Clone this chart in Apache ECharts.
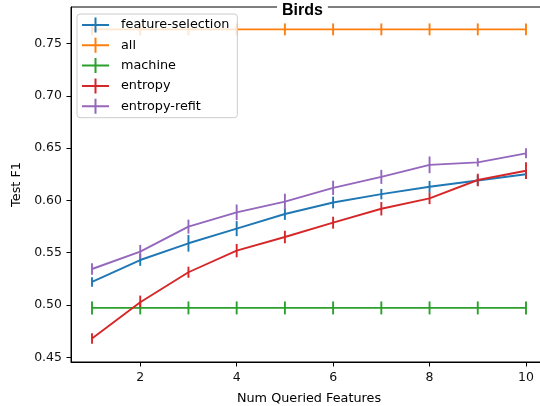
<!DOCTYPE html>
<html>
<head>
<meta charset="utf-8">
<script src="https://cdn.jsdelivr.net/npm/echarts@6/dist/echarts.min.js"></script>
<style>
  html, body { margin: 0; padding: 0; background: #fff; overflow: hidden; width: 540px; height: 406px; }
  /* the plot frame runs a few pixels past the right edge of the page */
  #chart { width: 547px; height: 406px; }
</style>
</head>
<body>
<div id="chart"></div>
<script>
// Number of queried features (x values)
const queried = [1, 2, 3, 4, 5, 6, 7, 8, 9, 10];

// Mean test F1 per method, with error bar half-heights
const featureSelection    = [0.522, 0.543, 0.559, 0.573, 0.587, 0.598, 0.606, 0.613, 0.619, 0.625];
const featureSelectionErr = [0.0045, 0.0056, 0.0080, 0.0072, 0.0056, 0.0056, 0.0050, 0.0056, 0.0050, 0.0042];

const allFeatures    = [0.7635, 0.7635, 0.7635, 0.7635, 0.7635, 0.7635, 0.7635, 0.7635, 0.7635, 0.7635];
const allFeaturesErr = [0.0057, 0.0057, 0.0057, 0.0057, 0.0057, 0.0057, 0.0057, 0.0057, 0.0057, 0.0057];

const machine    = [0.4972, 0.4972, 0.4972, 0.4972, 0.4972, 0.4972, 0.4972, 0.4972, 0.4972, 0.4972];
const machineErr = [0.0062, 0.0062, 0.0062, 0.0062, 0.0062, 0.0062, 0.0062, 0.0062, 0.0062, 0.0062];

const entropy    = [0.468, 0.5026, 0.5313, 0.552, 0.565, 0.5787, 0.592, 0.602, 0.6195, 0.6284];
const entropyErr = [0.0050, 0.0064, 0.0053, 0.0064, 0.0060, 0.0057, 0.0064, 0.0056, 0.0060, 0.0080];

const entropyRefit    = [0.5344, 0.551, 0.5749, 0.5886, 0.5988, 0.612, 0.6225, 0.634, 0.6364, 0.645];
const entropyRefitErr = [0.0056, 0.0064, 0.0067, 0.0075, 0.0076, 0.0068, 0.0067, 0.0080, 0.0040, 0.0048];

// Tick labels
const xTicks = [2, 4, 6, 8, 10];
const yTicks = [0.45, 0.50, 0.55, 0.60, 0.65, 0.70, 0.75];

const methods = [
  { name: 'feature-selection', values: featureSelection, errors: featureSelectionErr, color: '#1f77b4' },
  { name: 'all',               values: allFeatures,      errors: allFeaturesErr,      color: '#ff7f0e' },
  { name: 'machine',           values: machine,          errors: machineErr,          color: '#2ca02c' },
  { name: 'entropy',           values: entropy,          errors: entropyErr,          color: '#d62728' },
  { name: 'entropy-refit',     values: entropyRefit,     errors: entropyRefitErr,     color: '#9467bd' }
];

const LW = 1.9;
const font = 'DejaVu Sans';
// Legend glyph: a short line crossed by a vertical error bar
const plusIcon = 'path://M0,6.5H27V8.5H0Z M12.5,0H14.5V15H12.5Z';

const series = [];
methods.forEach((m) => {
  series.push({
    name: m.name,
    type: 'line',
    data: queried.map((x, k) => [x, m.values[k]]),
    showSymbol: false,
    symbol: 'none',
    lineStyle: { color: m.color, width: LW },
    itemStyle: { color: m.color },
    z: 2,
    silent: true
  });
  series.push({
    name: m.name + ' err',
    type: 'custom',
    data: queried.map((x, k) => [x, m.values[k], m.errors[k]]),
    renderItem: (params, api) => {
      const x = api.value(0), y = api.value(1), e = api.value(2);
      const p1 = api.coord([x, y + e]);
      const p2 = api.coord([x, y - e]);
      return {
        type: 'line',
        shape: { x1: p1[0], y1: p1[1], x2: p2[0], y2: p2[1] },
        style: { stroke: m.color, lineWidth: LW }
      };
    },
    z: 2,
    silent: true
  });
});

const chart = echarts.init(document.getElementById('chart'), null, { renderer: 'canvas' });
chart.setOption({
  animation: false,
  backgroundColor: '#fff',
  title: {
    text: 'Birds',
    left: 277,
    top: 2,
    padding: [1, 5, 1, 5],
    backgroundColor: '#fff',
    textStyle: { fontFamily: 'Liberation Sans', fontWeight: 'bold', fontSize: 16, color: '#000' }
  },
  legend: {
    data: methods.map(m => ({ name: m.name, icon: plusIcon })),
    orient: 'vertical',
    left: 77,
    top: 14,
    padding: [3.5, 8, 4, 5],
    itemWidth: 27,
    itemHeight: 15,
    itemGap: 5.3,
    backgroundColor: 'rgba(255,255,255,0.8)',
    borderColor: '#cccccc',
    borderWidth: 1,
    borderRadius: 3,
    selectedMode: false,
    z: 6,
    textStyle: { fontFamily: font, fontSize: 12.8, color: '#000', padding: [0, 0, 0, 7] }
  },
  grid: {
    left: 71, right: 0, top: 7, bottom: 44,
    outerBoundsMode: 'none',
    show: true, borderColor: '#000', borderWidth: 1, backgroundColor: 'transparent'
  },
  xAxis: {
    type: 'value',
    min: 0.5643,
    max: 10.4357,
    name: 'Num Queried Features',
    nameLocation: 'middle',
    nameGap: 30,
    nameTextStyle: { fontFamily: font, fontSize: 12.8, color: '#000' },
    axisLine: { show: true, lineStyle: { color: '#000', width: 1 } },
    axisTick: { show: true, length: 4.5, customValues: xTicks, lineStyle: { color: '#000', width: 1 } },
    axisLabel: { customValues: xTicks, margin: 9, fontFamily: font, fontSize: 12.5, color: '#111' },
    splitLine: { show: false }
  },
  yAxis: {
    type: 'value',
    min: 0.4455,
    max: 0.7849,
    name: 'Test F1',
    nameLocation: 'middle',
    nameGap: 47,
    nameRotate: 90,
    nameTextStyle: { fontFamily: font, fontSize: 12.8, color: '#000' },
    axisLine: { show: true, lineStyle: { color: '#000', width: 1 } },
    axisTick: { show: true, length: 4.5, customValues: yTicks, lineStyle: { color: '#000', width: 1 } },
    axisLabel: {
      customValues: yTicks, margin: 9, fontFamily: font, fontSize: 12.5, color: '#111',
      formatter: v => v.toFixed(2)
    },
    splitLine: { show: false }
  },
  series: series
});
</script>
</body>
</html>
